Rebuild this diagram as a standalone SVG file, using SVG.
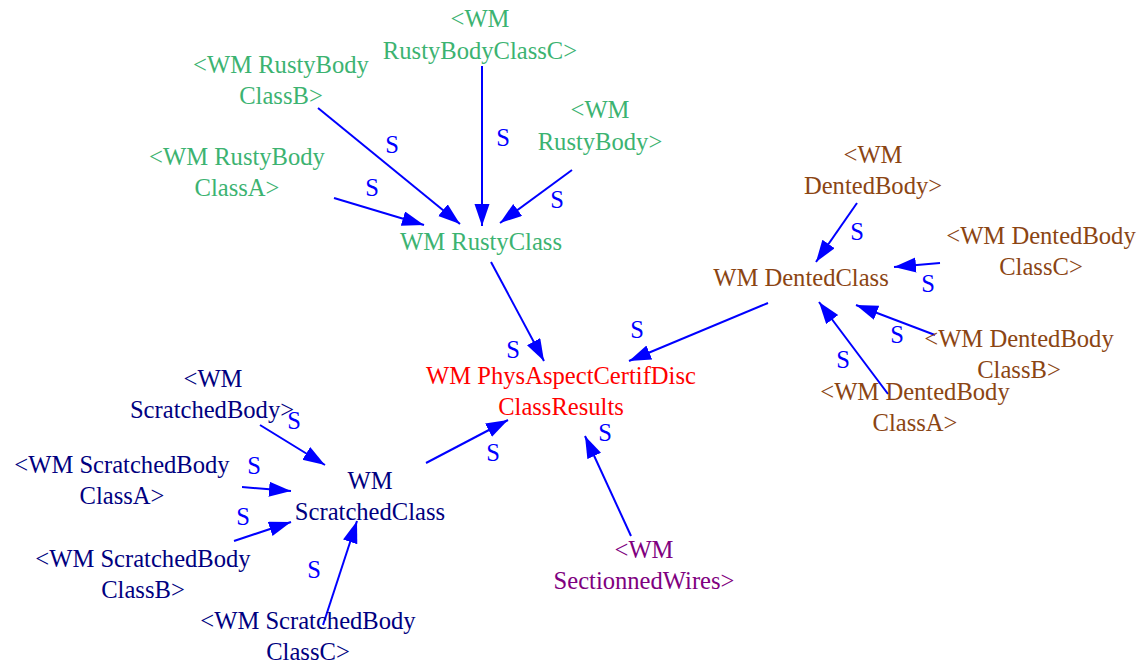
<svg xmlns="http://www.w3.org/2000/svg" width="1144" height="664" viewBox="0 0 1144 664">
<style>
text{font-family:"Liberation Serif","Times New Roman",serif;font-size:24.6px;text-anchor:middle}
.g{fill:#3cb371}.b{fill:#8b4513}.n{fill:#000080}.r{fill:#ff0000}.p{fill:#800080}
.e line{stroke:#0000ff;stroke-width:2;marker-end:url(#ah)}
.e text{fill:#0000ff}
</style>
<defs>
<marker id="ah" markerUnits="userSpaceOnUse" markerWidth="24" markerHeight="17" refX="22" refY="7.5" orient="auto">
<path d="M0,0 L22,7.5 L0,15 z" fill="#0000ff"/>
</marker>
</defs>
<rect width="1144" height="664" fill="#fff"/>
<g id="edges" class="e">
<line x1="482" y1="66" x2="482" y2="226"/><text x="503" y="146">S</text>
<line x1="318" y1="108" x2="460" y2="224"/><text x="392" y="153">S</text>
<line x1="572" y1="170" x2="500" y2="223"/><text x="557" y="208">S</text>
<line x1="334" y1="198" x2="424" y2="225"/><text x="372" y="196">S</text>
<line x1="491" y1="262" x2="544" y2="361"/><text x="513" y="358">S</text>
<line x1="768" y1="303" x2="629" y2="361"/><text x="637" y="338">S</text>
<line x1="857" y1="203" x2="816" y2="262"/><text x="857" y="240">S</text>
<line x1="940" y1="263" x2="894" y2="267"/><text x="928" y="292">S</text>
<line x1="935" y1="335" x2="856" y2="305"/><text x="897" y="343">S</text>
<line x1="888" y1="394" x2="819" y2="302"/><text x="843" y="368">S</text>
<line x1="426" y1="463" x2="508" y2="420"/><text x="493" y="461">S</text>
<line x1="631" y1="536" x2="585" y2="436"/><text x="605" y="441">S</text>
<line x1="260" y1="425" x2="325" y2="465"/><text x="294" y="429">S</text>
<line x1="242" y1="487" x2="291" y2="491"/><text x="254" y="474">S</text>
<line x1="234" y1="541" x2="291" y2="522"/><text x="243" y="525">S</text>
<line x1="323" y1="625" x2="357" y2="521"/><text x="314" y="578">S</text>
</g>
<g id="RustyBodyClassC" class="g"><text x="480" y="27">&lt;WM</text><text x="480" y="59">RustyBodyClassC&gt;</text></g>
<g id="RustyBodyClassB" class="g"><text x="281" y="73">&lt;WM RustyBody</text><text x="281" y="104">ClassB&gt;</text></g>
<g id="RustyBody" class="g"><text x="600" y="118">&lt;WM</text><text x="600" y="150">RustyBody&gt;</text></g>
<g id="RustyBodyClassA" class="g"><text x="237" y="165">&lt;WM RustyBody</text><text x="237" y="196">ClassA&gt;</text></g>
<g id="RustyClass" class="g"><text x="481" y="250">WM RustyClass</text></g>
<g id="PhysAspectCertifDiscClassResults" class="r"><text x="561" y="384">WM PhysAspectCertifDisc</text><text x="561" y="415">ClassResults</text></g>
<g id="DentedBody" class="b"><text x="873" y="163">&lt;WM</text><text x="873" y="194">DentedBody&gt;</text></g>
<g id="DentedClass" class="b"><text x="801" y="286">WM DentedClass</text></g>
<g id="DentedBodyClassC" class="b"><text x="1041" y="244">&lt;WM DentedBody</text><text x="1041" y="275">ClassC&gt;</text></g>
<g id="DentedBodyClassB" class="b"><text x="1019" y="347">&lt;WM DentedBody</text><text x="1019" y="378">ClassB&gt;</text></g>
<g id="DentedBodyClassA" class="b"><text x="915" y="400">&lt;WM DentedBody</text><text x="915" y="431">ClassA&gt;</text></g>
<g id="ScratchedBody" class="n"><text x="213" y="387">&lt;WM</text><text x="212" y="418">ScratchedBody&gt;</text></g>
<g id="ScratchedBodyClassA" class="n"><text x="122" y="473">&lt;WM ScratchedBody</text><text x="122" y="504">ClassA&gt;</text></g>
<g id="ScratchedClass" class="n"><text x="370" y="489">WM</text><text x="370" y="520">ScratchedClass</text></g>
<g id="ScratchedBodyClassB" class="n"><text x="143" y="567">&lt;WM ScratchedBody</text><text x="143" y="598">ClassB&gt;</text></g>
<g id="ScratchedBodyClassC" class="n"><text x="308" y="629">&lt;WM ScratchedBody</text><text x="308" y="660">ClassC&gt;</text></g>
<g id="SectionnedWires" class="p"><text x="644" y="558">&lt;WM</text><text x="644" y="589">SectionnedWires&gt;</text></g>
</svg>
